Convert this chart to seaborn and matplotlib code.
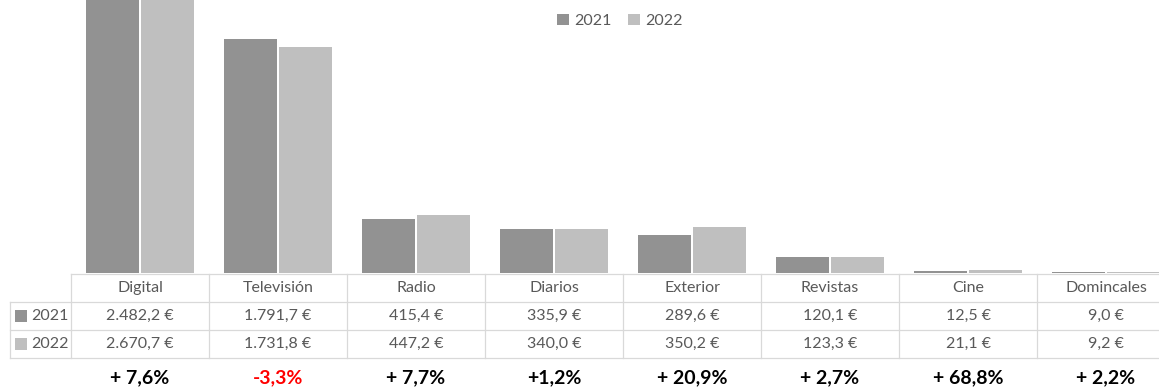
import matplotlib
matplotlib.use("Agg")
import matplotlib.pyplot as plt
import matplotlib.transforms as mtransforms
from matplotlib.lines import Line2D
from matplotlib.patches import Patch
import pandas as pd
import seaborn as sns

# Advertising investment by medium (millions of euros)
categories = ["Digital", "Televisión", "Radio", "Diarios", "Exterior",
              "Revistas", "Cine", "Domincales"]
years = ["2021", "2022"]
values_2021 = [2482.2, 1791.7, 415.4, 335.9, 289.6, 120.1, 12.5, 9.0]
values_2022 = [2670.7, 1731.8, 447.2, 340.0, 350.2, 123.3, 21.1, 9.2]
change_labels = ["+ 7,6%", "-3,3%", "+ 7,7%", "+1,2%", "+ 20,9%",
                 "+ 2,7%", "+ 68,8%", "+ 2,2%"]

colors = {"2021": "#929292", "2022": "#bfbfbf"}
text_color = "#595959"
grid_color = "#d9d9d9"

plt.rcParams["font.family"] = ["Lato", "DejaVu Sans"]

df = pd.DataFrame({
    "medio": categories * 2,
    "año": ["2021"] * len(categories) + ["2022"] * len(categories),
    "importe": values_2021 + values_2022,
})

W, H = 1159, 388
fig = plt.figure(figsize=(W / 100, H / 100), dpi=100)
ax_left, ax_width = 71, 1104
ax_top, ax_height = 0, 273
ax = fig.add_axes([ax_left / W, (H - ax_top - ax_height) / H,
                   ax_width / W, ax_height / H])

sns.barplot(data=df, x="medio", y="importe", hue="año", hue_order=years,
            palette=colors, width=0.81, gap=0.05, saturation=1,
            ax=ax, legend=False)

ax.set_xlim(-0.5, len(categories) - 0.5)
ax.set_ylim(0, 2090)
for s in ax.spines.values():
    s.set_visible(False)
ax.set_xticks([])
ax.set_yticks([])
ax.set_xlabel("")
ax.set_ylabel("")

# Legend at the top
handles = [Patch(facecolor=colors[y], edgecolor="none") for y in years]
ax.legend(handles, years, loc="upper center", bbox_to_anchor=(0.497, 1.0),
          ncol=2, frameon=False, fontsize=11.5, labelcolor=text_color,
          handlelength=0.75, handleheight=0.75, handletextpad=0.35,
          columnspacing=1.0, borderaxespad=0.45)

# Data table below the plot (x in data units, y in axes fraction)
trans = mtransforms.blended_transform_factory(ax.transData, ax.transAxes)

def frac(py):
    return (ax_height - (py - ax_top)) / ax_height

row_h_lines = [274, 302, 330, 358]
label_left = -0.5 - 61 / 138.0
x_right = len(categories) - 0.5

line_kw = dict(color=grid_color, lw=0.9, transform=trans, clip_on=False)
# horizontal lines
ax.add_line(Line2D([-0.5, x_right], [frac(274)] * 2, **line_kw))
for py in row_h_lines[1:]:
    ax.add_line(Line2D([label_left, x_right], [frac(py)] * 2, **line_kw))
# vertical lines
ax.add_line(Line2D([label_left] * 2, [frac(302), frac(358)], **line_kw))
for i in range(len(categories) + 1):
    xb = i - 0.5
    ax.add_line(Line2D([xb] * 2, [frac(274), frac(358)], **line_kw))


def fmt_eur(v):
    s = f"{v:,.1f}".replace(",", "X").replace(".", ",").replace("X", ".")
    return s + " €"

fs = 11.5
for i, cat in enumerate(categories):
    ax.text(i, frac(288), cat, transform=trans, ha="center", va="center",
            fontsize=fs, color=text_color, clip_on=False)
    ax.text(i, frac(316), fmt_eur(values_2021[i]), transform=trans,
            ha="center", va="center", fontsize=fs, color=text_color)
    ax.text(i, frac(344), fmt_eur(values_2022[i]), transform=trans,
            ha="center", va="center", fontsize=fs, color=text_color)
    col = "#ff0000" if change_labels[i].startswith("-") else "black"
    ax.text(i, frac(378), change_labels[i], transform=trans, ha="center",
            va="center", fontsize=14, fontweight="bold", color=col)

# Row labels with colour keys
for py, yr in [(316, "2021"), (344, "2022")]:
    kx = label_left + 11 / 138.0
    ax.scatter([kx], [frac(py)], marker="s", s=64, color=colors[yr],
               transform=trans, clip_on=False, linewidths=0)
    ax.text(label_left + 21 / 138.0, frac(py), yr, transform=trans,
            ha="left", va="center", fontsize=fs, color=text_color)

fig.savefig("out.png", dpi=100)
